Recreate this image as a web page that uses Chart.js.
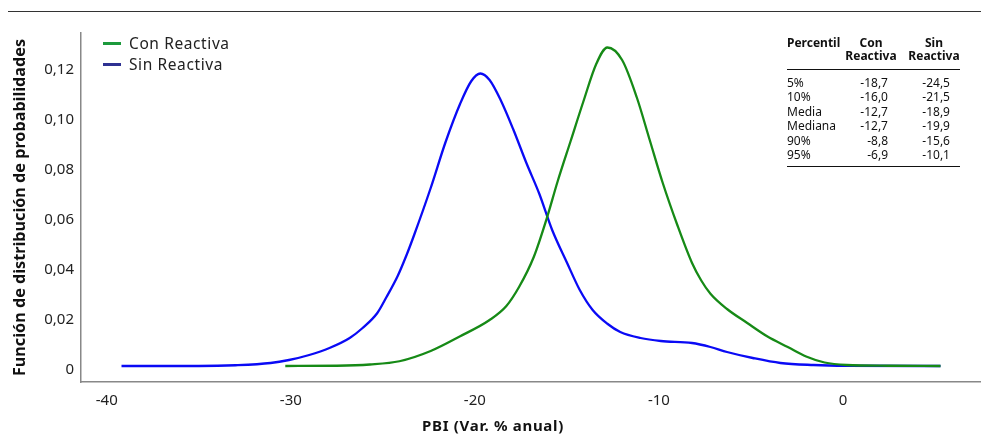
<!DOCTYPE html>
<html>
<head>
<meta charset="utf-8">
<script src="https://cdn.jsdelivr.net/npm/chart.js@4"></script>
<style>
  body { margin: 0; background: #fff; font-family: "Noto Sans", sans-serif; }
  #wrap { position: relative; width: 981px; height: 446px; }
  #topline { position: absolute; left: 8px; top: 11px; width: 973px; border-top: 1px solid #333; }
  .leg { position: absolute; left: 103px; font-size: 15.5px; letter-spacing: 0.6px; color: #222; line-height: 18px; }
  .leg span { display: inline-block; width: 18px; height: 3px; vertical-align: middle; margin-right: 8px; position: relative; top: -1px; }
  #tituloX { position: absolute; left: 393px; width: 200px; top: 415px; text-align: center; font-size: 15px; font-weight: bold; letter-spacing: 0.7px; color: #111; line-height: 20px; }
  .fila { position: absolute; left: 787px; width: 173px; height: 14px; line-height: 14px; font-size: 12px; color: #111; }
  .fila div { position: absolute; top: 0; }
  .regla { position: absolute; left: 787px; width: 173px; border-top: 1px solid #111; }
</style>
</head>
<body>
<div id="wrap">
  <canvas id="GraficoDensidad" width="981" height="446"></canvas>
  <div id="topline"></div>
  <div class="leg" style="top:34px"><span style="background:#1d9a3c"></span>Con Reactiva</div>
  <div class="leg" style="top:55px"><span style="background:#2e3192"></span>Sin Reactiva</div>
  <div id="tituloX">PBI (Var. % anual)</div>
  <div id="tabla"></div>
</div>
<script>
// curva "Con Reactiva"
var xCon = [-30.3, -27.5, -25.7, -24.1, -22.4, -20.8, -19.2, -18.3, -17.6, -16.8, -16.1, -15.5, -14.8, -14.1, -13.4, -12.8, -12.0, -11.2, -10.5, -9.8, -9.0, -8.2, -7.7, -7.2, -6.3, -5.2, -4.1, -3.0, -2.0, -1.0, 0.2, 2.5, 5.3];
var yCon = [0.0016, 0.0017, 0.0022, 0.0035, 0.0076, 0.0135, 0.02, 0.0255, 0.0332, 0.0452, 0.0605, 0.0755, 0.0915, 0.1075, 0.1225, 0.129, 0.124, 0.109, 0.092, 0.075, 0.058, 0.0428, 0.0358, 0.0305, 0.0244, 0.0188, 0.0134, 0.0092, 0.0054, 0.003, 0.002, 0.0017, 0.0016];

// curva "Sin Reactiva"
var xSin = [-39.2, -35.0, -33.0, -31.1, -30.1, -29.0, -27.9, -26.8, -26.1, -25.3, -24.8, -24.2, -23.7, -23.3, -22.4, -21.6, -20.8, -20.2, -19.7, -19.2, -18.6, -17.9, -17.2, -16.5, -15.8, -15.0, -14.3, -13.6, -12.8, -12.1, -11.0, -9.9, -8.2, -7.2, -6.3, -4.9, -3.4, -1.6, 0.2, 5.3];
var ySin = [0.0016, 0.0016, 0.0019, 0.0028, 0.004, 0.006, 0.0088, 0.0128, 0.0168, 0.0228, 0.0292, 0.0375, 0.0462, 0.054, 0.0728, 0.091, 0.1065, 0.1155, 0.1186, 0.116, 0.108, 0.096, 0.0828, 0.0705, 0.056, 0.043, 0.032, 0.024, 0.0185, 0.0152, 0.0128, 0.0116, 0.0108, 0.0092, 0.0072, 0.0048, 0.0028, 0.002, 0.0017, 0.0016];

// tabla de percentiles
var percentiles = ["5%", "10%", "Media", "Mediana", "90%", "95%"];
var valoresCon = ["-18,7", "-16,0", "-12,7", "-12,7", "-8,8", "-6,9"];
var valoresSin = ["-24,5", "-21,5", "-18,9", "-19,9", "-15,6", "-10,1"];

var xTicks = [-40, -30, -20, -10, 0];
var yTicks = [0, 0.02, 0.04, 0.06, 0.08, 0.10, 0.12];

function Puntos(xs, ys) {
    var p = [];
    for (var i = 0; i < xs.length; i++) p.push({ x: xs[i], y: ys[i] });
    return p;
}

function ArmarTabla() {
    var html = '';
    // encabezado en dos lineas
    html += '<div class="fila" style="top:36px;font-weight:bold"><div style="left:0">Percentil</div><div style="left:58px;width:52px;text-align:center">Con</div><div style="left:120px;width:54px;text-align:center">Sin</div></div>';
    html += '<div class="fila" style="top:49px;font-weight:bold"><div style="left:58px;width:52px;text-align:center">Reactiva</div><div style="left:120px;width:54px;text-align:center">Reactiva</div></div>';
    html += '<div class="regla" style="top:69px"></div>';
    for (var i = 0; i < percentiles.length; i++) {
        var top = 76 + i * 14.4;
        html += '<div class="fila" style="top:' + top + 'px"><div style="left:0">' + percentiles[i] + '</div>' +
            '<div style="right:72px;text-align:right">' + valoresCon[i] + '</div>' +
            '<div style="right:10px;text-align:right">' + valoresSin[i] + '</div></div>';
    }
    html += '<div class="regla" style="top:166px"></div>';
    document.getElementById('tabla').innerHTML = html;
}
ArmarTabla();

var fuente = "'Noto Sans', sans-serif";
var ctx = document.getElementById('GraficoDensidad').getContext('2d');

var grafico = new Chart(ctx, {
    type: 'line',
    data: {
        datasets: [{
            label: "Con Reactiva",
            data: Puntos(xCon, yCon),
            borderColor: "#168a16",
            borderWidth: 2.3,
            pointRadius: 0,
            cubicInterpolationMode: 'monotone'
        }, {
            label: "Sin Reactiva",
            data: Puntos(xSin, ySin),
            borderColor: "#0a0af5",
            borderWidth: 2.3,
            pointRadius: 0,
            cubicInterpolationMode: 'monotone'
        }]
    },
    options: {
        responsive: false,
        animation: false,
        layout: { padding: { top: 33, left: 0, right: 0, bottom: 0 } },
        plugins: {
            legend: { display: false },
            tooltip: { enabled: false }
        },
        scales: {
            x: {
                type: 'linear',
                min: -41.4,
                max: 7.5,
                afterBuildTicks: function (s) { s.ticks = xTicks.map(function (v) { return { value: v }; }); },
                afterFit: function (s) { s.height = 64; },
                grid: { display: false, drawTicks: false },
                border: { color: '#888', width: 1.5 },
                ticks: {
                    padding: 10,
                    color: '#222',
                    font: { family: fuente, size: 15 },
                    maxRotation: 0,
                    callback: function (v) { return String(v); }
                }
            },
            y: {
                min: -0.0048,
                max: 0.1348,
                afterBuildTicks: function (s) { s.ticks = yTicks.map(function (v) { return { value: v }; }); },
                afterFit: function (s) { s.width = 81; },
                grid: { display: false, drawTicks: false },
                border: { color: '#888', width: 1.5 },
                ticks: {
                    padding: 7,
                    color: '#222',
                    font: { family: fuente, size: 15 },
                    callback: function (v) { return v === 0 ? '0' : v.toFixed(2).replace('.', ','); }
                },
                title: {
                    display: true,
                    text: 'Función de distribución de probabilidades',
                    color: '#111',
                    font: { family: fuente, size: 16.2, weight: 'bold' },
                    padding: { top: 11, bottom: 0 }
                }
            }
        }
    }
});
</script>
</body>
</html>
